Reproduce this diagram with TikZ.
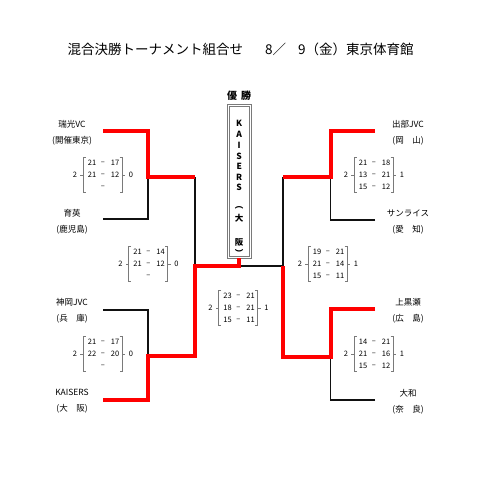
\documentclass[tikz,border=0pt]{standalone}
\usepackage{fontspec}
\setmainfont{Noto Sans CJK JP}
\usepackage{tikz}
\usetikzlibrary{positioning}
\definecolor{win-red}{HTML}{FF0000}
\definecolor{line-dark}{HTML}{111111}
\definecolor{frame-gray}{HTML}{7A7A7A}
\definecolor{text-dark}{HTML}{000000}

\tikzset{
    winline/.style={win-red, line width=4pt},
    loseline/.style={line-dark, line width=1.5pt},
    team/.style={align=center, inner sep=0pt, text=text-dark, font=\fontsize{8.5}{16}\selectfont},
    pts/.style={inner sep=0pt, text=text-dark, font=\fontsize{7.5}{8}\selectfont},
    boxchar/.style={inner sep=0pt, text=text-dark, font=\fontsize{8.5}{9}\selectfont\bfseries}
}

% score block: name, centre x, centre y, sets left, sets right, games
\newcommand{\scoreblock}[6]{
    \begin{scope}[shift={(#2,#3)}]
        \draw[frame-gray, line width=0.6pt] (-17.5,-17.5) -- (-20,-17.5) -- (-20,17.5) -- (-17.5,17.5)
            (-20,0) -- (-23,0);
        \draw[frame-gray, line width=0.6pt] (16.5,-17.5) -- (19,-17.5) -- (19,17.5) -- (16.5,17.5)
            (19,0) -- (22,0);
        \node[pts] (#1-l) at (-28,0) {#4};
        \node[pts] (#1-r) at (28,0) {#5};
        \foreach \a/\b [count=\k] in {#6} {
            \node[pts] (#1-a\k) at (-11,{-24+12*\k}) {\a};
            \node[pts] (#1-d\k) at (0,{-24+12*\k}) {–};
            \node[pts] (#1-b\k) at (12,{-24+12*\k}) {\b};
        }
    \end{scope}
}

\begin{document}
\begin{tikzpicture}[x=1pt, y=-1pt]
    \useasboundingbox[fill=white] (0,0) rectangle (480,489);

    \node[anchor=west, text=text-dark, font=\fontsize{13.5}{15}\selectfont] (title) at (64,49)
        {混合決勝トーナメント組合せ\hspace{22pt}8／\hspace{12pt}9（金）東京体育館};

    % teams
    \node[team] (t1) at (72,133) {瑞光VC\\(開催東京)};
    \node[team] (t2) at (72,222) {育英\\(鹿児島)};
    \node[team] (t3) at (72,311) {神岡JVC\\(兵　庫)};
    \node[team] (t4) at (72,401.5) {KAISERS\\(大　阪)};
    \node[team] (t5) at (408,133) {出部JVC\\(岡　山)};
    \node[team] (t6) at (408,222) {サンライス\\(愛　知)};
    \node[team] (t7) at (408,311) {上黒瀬\\(広　島)};
    \node[team] (t8) at (408,401.5) {大和\\(奈　良)};

    % champion
    \node[text=text-dark, font=\fontsize{10}{12}\selectfont\bfseries] (yusho) at (239.2,96) {優\hspace{4pt}勝};
    \node[draw=frame-gray, double=white, double distance=0.8pt, line width=0.9pt,
        minimum width=22pt, minimum height=152pt, inner sep=0pt] (champ) at (239.2,181.5) {};
    \foreach \c/\yy [count=\k] in {K/123, A/134, I/145, S/156, E/166, R/177, S/187, ︵/208, 大/218, 阪/242, ︶/253}
        \node[boxchar] (champ-\k) at (239.2,\yy) {\c};

    % bracket points
    \coordinate (e1) at (103,131);
    \coordinate (e2) at (103,219);
    \coordinate (e3) at (103,310);
    \coordinate (e4) at (103,400);
    \coordinate (e5) at (375,131);
    \coordinate (e6) at (375,220);
    \coordinate (e7) at (375,309);
    \coordinate (e8) at (375,400);
    \coordinate (q1) at (148,177);
    \coordinate (q2) at (148,356);
    \coordinate (q3) at (330.5,177);
    \coordinate (q4) at (330.5,357);
    \coordinate (m1) at (195,177);
    \coordinate (m2) at (195,356);
    \coordinate (m3) at (283,177);
    \coordinate (m4) at (283,357);
    \coordinate (ml) at (195,266);
    \coordinate (mr) at (283,266);
    \coordinate (fj) at (239.2,266);

    \draw[loseline] (e2) -| (q1);
    \draw[loseline] (e3) -| (q2);
    \draw[loseline] (e6) -| (q3);
    \draw[loseline] (e8) -| (q4);
    \draw[loseline] (m1) -- (ml);
    \draw[loseline] (fj) -- (mr) -- (m3);

    \draw[winline] (e1) -| (q1) -- (m1);
    \draw[winline] (e4) -| (q2) -- (m2) -- (ml) -- (fj) -- (champ.south);
    \draw[winline] (e5) -| (q3) -- (m3);
    \draw[winline] (e7) -| (q4) -- (m4) -- (mr);

    % scores
    \scoreblock{lt}{103}{175}{2}{0}{21/17, 21/12, /}
    \scoreblock{ls}{148.5}{264}{2}{0}{21/14, 21/12, /}
    \scoreblock{lb}{103}{354}{2}{0}{21/17, 22/20, /}
    \scoreblock{fin}{238.5}{308}{2}{1}{23/21, 18/21, 15/11}
    \scoreblock{rt}{374}{175}{2}{1}{21/18, 13/21, 15/12}
    \scoreblock{rs}{328}{264}{2}{1}{19/21, 21/14, 15/11}
    \scoreblock{rb}{374}{354}{2}{1}{14/21, 21/16, 15/12}
\end{tikzpicture}
\end{document}
